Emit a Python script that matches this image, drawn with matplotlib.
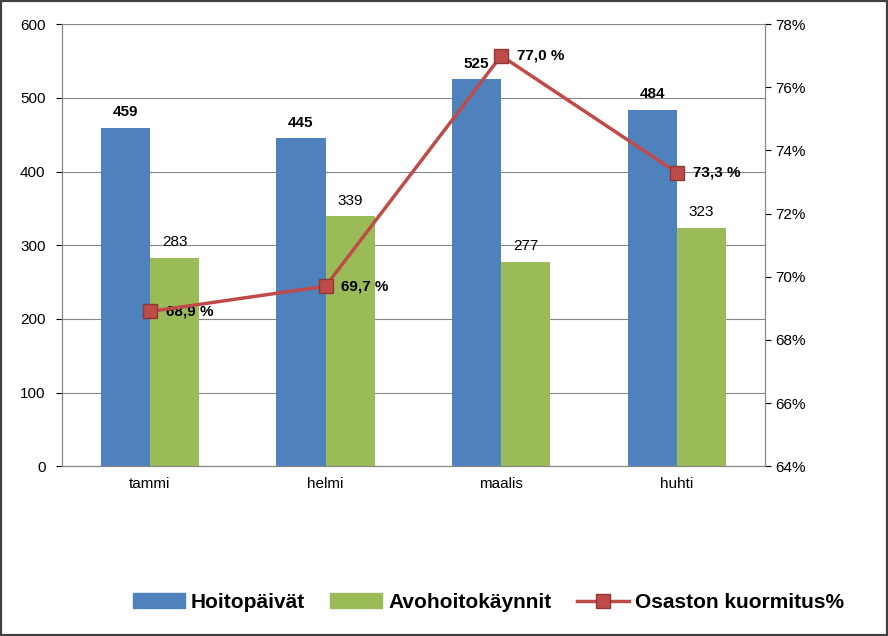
import matplotlib
matplotlib.use("Agg")
import matplotlib.pyplot as plt
from matplotlib.lines import Line2D
from matplotlib.patches import Patch
import numpy as np

plt.rcParams["font.family"] = "Liberation Sans"

months = ["tammi", "helmi", "maalis", "huhti"]
hoitopaivat = [459, 445, 525, 484]
avohoito = [283, 339, 277, 323]
kuormitus = [68.9, 69.7, 77.0, 73.3]

blue, green, red = "#4F81BD", "#9BBB59", "#BE4B48"

fig = plt.figure(figsize=(8.88, 6.36), dpi=100)
ax = fig.add_axes([0.070, 0.267, 0.791, 0.695])
ax2 = ax.twinx()

x = np.arange(len(months))
w = 0.28
ax.bar(x - w/2, hoitopaivat, w, color=blue, zorder=2)
ax.bar(x + w/2, avohoito, w, color=green, zorder=2)
for i in range(len(x)):
    ax.text(x[i] - w/2, hoitopaivat[i] + 12, str(hoitopaivat[i]), ha="center", va="bottom",
            fontsize=11, fontweight="bold")
    ax.text(x[i] + w/2, avohoito[i] + 12, str(avohoito[i]), ha="center", va="bottom", fontsize=11)

ax.set_xlim(-0.5, 3.5)
ax.set_ylim(0, 600)
ax.set_yticks(range(0, 601, 100))
ax.yaxis.grid(True, color="#868686", lw=0.8, zorder=0)
ax.set_axisbelow(True)
ax.set_xticks(x)
ax.set_xticklabels(months)
ax.tick_params(labelsize=11, length=0, pad=8)
ax.tick_params(axis="y", length=4)

ax2.plot(x, kuormitus, color=red, lw=2.5, marker="s", ms=10, mfc=red, mec="#8C3836", zorder=5)
for i in range(len(x)):
    ax2.text(x[i] + 0.09, kuormitus[i], f"{kuormitus[i]:.1f} %".replace(".", ","),
             ha="left", va="center", fontsize=11, fontweight="bold")
ax2.set_ylim(64, 78)
ax2.set_yticks(range(64, 79, 2))
ax2.set_yticklabels([f"{v}%" for v in range(64, 79, 2)])
ax2.tick_params(labelsize=11, length=4)

for a in (ax, ax2):
    a.spines["top"].set_visible(False)
    for s in ("left", "right", "bottom"):
        a.spines[s].set_color("#868686")

handles = [Patch(color=blue), Patch(color=green),
           Line2D([], [], color=red, lw=2.5, marker="s", ms=10, mec="#8C3836")]
fig.legend(handles, ["Hoitopäivät", "Avohoitokäynnit", "Osaston kuormitus%"],
           loc="center", bbox_to_anchor=(0.55, 0.053), ncol=3, frameon=False,
           prop={"size": 15, "weight": "bold"}, handlelength=2.5, columnspacing=1.2, handletextpad=0.3)

fig.patches.append(plt.Rectangle((0, 0), 1, 1, transform=fig.transFigure, fill=False,
                                 ec="#404040", lw=3))
fig.savefig("out.png", dpi=100)
